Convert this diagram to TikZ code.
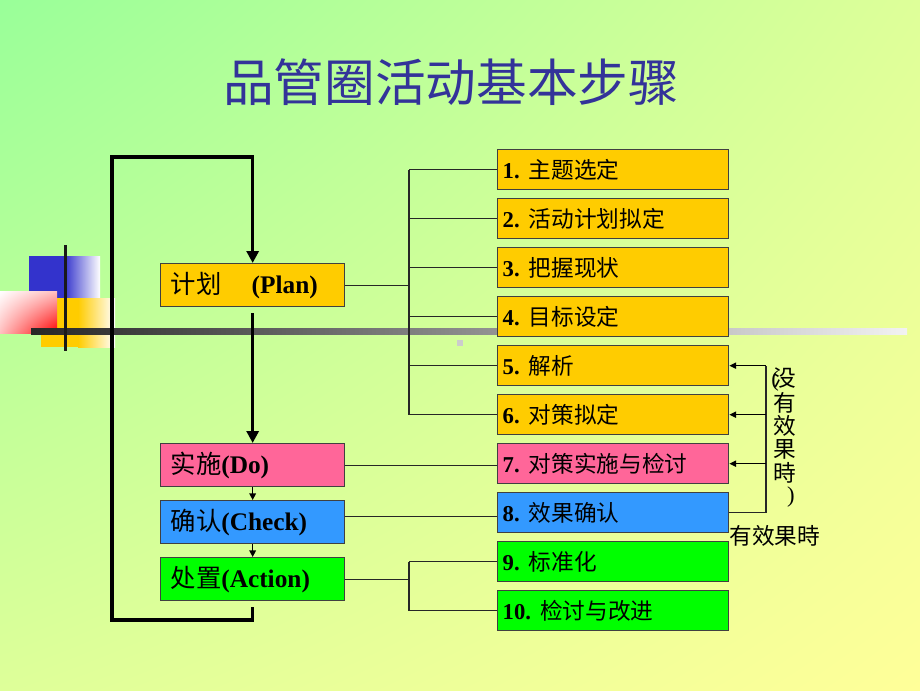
\documentclass[tikz,border=0pt]{standalone}
\usepackage{fontspec}
\setmainfont{Liberation Serif}
\newfontfamily\cjk{Noto Sans CJK SC}
\usetikzlibrary{arrows.meta,shadings}

\newcommand\zhtxt[1]{{\cjk #1}}

\definecolor{bgGreen}{RGB}{153,255,153}
\definecolor{bgMid}{RGB}{222,255,153}
\definecolor{bgYellow}{RGB}{255,255,153}
\definecolor{titleBlue}{RGB}{51,51,153}
\definecolor{planYellow}{RGB}{255,204,0}
\definecolor{doPink}{RGB}{255,102,153}
\definecolor{checkBlue}{RGB}{51,153,255}
\definecolor{actGreen}{RGB}{0,255,0}
\definecolor{deepBlue}{RGB}{51,51,204}

\tikzset{every picture/.style={line width=0.8pt}}

\begin{document}
\begin{tikzpicture}[x=0.75pt,y=0.75pt,yscale=-1, xscale=1,
  stepbox/.style={draw=black!75, line width=1pt, anchor=north west, minimum height=30pt,
    text width=165.75pt, inner xsep=3.75pt, align=left, font=\fontsize{17}{20}\selectfont},
  phasebox/.style={draw=black!75, line width=1pt, anchor=north west, minimum height=32.25pt,
    text width=123pt, inner xsep=7.5pt, align=left, font=\fontsize{19}{22}\selectfont},
  wire/.style={line width=1pt, draw=black!85},
  loopline/.style={line width=2.6pt},
  flowarrow/.style={line width=1pt, -{Triangle[length=5pt,width=5pt]}},
  fbarrow/.style={line width=1pt, -{Triangle[length=5pt,width=4.5pt]}}]
\useasboundingbox (0,0) rectangle (920,690);

%background
\shade[upper left=bgGreen, upper right=bgMid, lower left=bgMid, lower right=bgYellow] (0,0) rectangle (920,690);

%corner decoration
\fill[deepBlue] (29,256) rectangle (64,298);
\shade[left color=deepBlue, right color=white] (64,256) rectangle (100,298);
\fill[planYellow] (41,298) rectangle (78,347);
\shade[left color=planYellow, right color=white] (78,298) rectangle (115,347);
\shade[upper left=white, upper right=red!25, lower left=red!25, lower right=red] (0,291) rectangle (57,333);
\shade[left color=black!85, right color=black!5] (31,328) rectangle (907,334);
\fill[black!90] (64,245) rectangle (67,351);
\fill[black!20] (457,340) rectangle (463,346);

% Title
\node[text=titleBlue, font=\fontsize{38}{40}\selectfont] (title) at (451,82) {\zhtxt{品管圈活动基本步骤}};

% PDCA phases
\node[phasebox, fill=planYellow] (plan) at (160,263) {\zhtxt{计划}\hspace{1.2em}\textbf{(Plan)}};
\node[phasebox, fill=doPink] (do) at (160,443) {\zhtxt{实施}\textbf{(Do)}};
\node[phasebox, fill=checkBlue] (check) at (160,500) {\zhtxt{确认}\textbf{(Check)}};
\node[phasebox, fill=actGreen] (action) at (160,557) {\zhtxt{处置}\textbf{(Action)}};

% Steps
\node[stepbox, fill=planYellow] (b1) at (497,149) {\textbf{1.}\hspace{0.4em}\zhtxt{主题选定}};
\node[stepbox, fill=planYellow] (b2) at (497,198) {\textbf{2.}\hspace{0.4em}\zhtxt{活动计划拟定}};
\node[stepbox, fill=planYellow] (b3) at (497,247) {\textbf{3.}\hspace{0.4em}\zhtxt{把握现状}};
\node[stepbox, fill=planYellow] (b4) at (497,296) {\textbf{4.}\hspace{0.4em}\zhtxt{目标设定}};
\node[stepbox, fill=planYellow] (b5) at (497,345) {\textbf{5.}\hspace{0.4em}\zhtxt{解析}};
\node[stepbox, fill=planYellow] (b6) at (497,394) {\textbf{6.}\hspace{0.4em}\zhtxt{对策拟定}};
\node[stepbox, fill=doPink] (b7) at (497,443) {\textbf{7.}\hspace{0.4em}\zhtxt{对策实施与检讨}};
\node[stepbox, fill=checkBlue] (b8) at (497,492) {\textbf{8.}\hspace{0.4em}\zhtxt{效果确认}};
\node[stepbox, fill=actGreen] (b9) at (497,541) {\textbf{9.}\hspace{0.4em}\zhtxt{标准化}};
\node[stepbox, fill=actGreen] (b10) at (497,590) {\textbf{10.}\hspace{0.4em}\zhtxt{检讨与改进}};

% Feedback labels
\node[font=\fontsize{17}{17.4}\selectfont, align=center, inner sep=0pt, anchor=north] (nofx) at (785,367)
  {\llap{(\kern-4pt}\zhtxt{没}\\\zhtxt{有}\\\zhtxt{效}\\\zhtxt{果}\\\zhtxt{時}\\[-1pt]\hspace*{9pt})};
\node[font=\fontsize{17}{20}\selectfont, anchor=west, inner sep=0pt] (okfx) at (729,536) {\zhtxt{有效果時}};

% tree connectors
\coordinate (bus) at (409,0);
\coordinate (fb) at (766,0);
\draw[wire] (plan.east) -- (plan.east -| bus);
\draw[wire] (b1.west -| bus) -- (b6.west -| bus);
\foreach \i in {1,...,6}
  \draw[wire] (b\i.west -| bus) -- (b\i.west);
\draw[wire] (do.east) -- (do.east -| b7.west);
\draw[wire] ([yshift=-4.5pt]check.east) -- ([yshift=-4.5pt]check.east -| b8.west);
\draw[wire] (action.east) -- (action.east -| bus);
\draw[wire] (b9.west -| bus) -- (b10.west -| bus);
\draw[wire] (b9.west -| bus) -- (b9.west);
\draw[wire] (b10.west -| bus) -- (b10.west);

% feedback loop
\draw[wire] (b8.east) -- (b8.east -| fb) -- (b5.east -| fb);
\foreach \i in {5,6,7}
  \draw[fbarrow] (b\i.east -| fb) -- (b\i.east);

% PDCA flow
\coordinate (lpbl) at (112,620);
\coordinate (lptl) at (112,157);
\draw[loopline, -{Triangle[length=9pt,width=9pt]}] ([yshift=4.5pt]action.south) |- (lpbl) -- (lptl) -| (plan.north);
\draw[loopline, -{Triangle[length=9pt,width=9pt]}] ([yshift=4.5pt]plan.south) -- (do.north);
\draw[flowarrow] (do.south) -- (check.north);
\draw[flowarrow] (check.south) -- (action.north);
\end{tikzpicture}
\end{document}
